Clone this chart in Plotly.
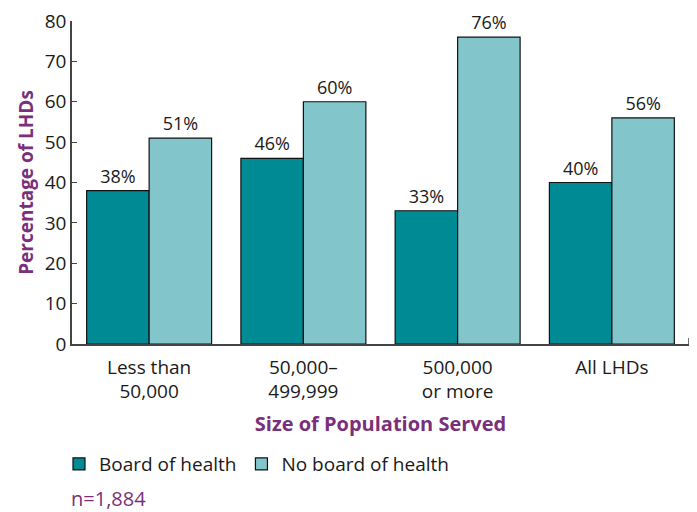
import plotly.graph_objects as go

categories = ["Less than<br>50,000", "50,000–<br>499,999", "500,000<br>or more", "All LHDs"]
board = [38, 46, 33, 40]
no_board = [51, 60, 76, 56]
series_names = ["Board of health", "No board of health"]
y_ticks = [0, 10, 20, 30, 40, 50, 60, 70, 80]

FONT = "Open Sans"
PURPLE = "#7a2f7c"
DARK = "#008a93"
LIGHT = "#82c6cc"

fig = go.Figure()
for name, vals, col in [(series_names[0], board, DARK), (series_names[1], no_board, LIGHT)]:
    fig.add_trace(go.Bar(
        x=categories, y=vals, name=name,
        marker=dict(color=col, line=dict(color="#111111", width=1.2)),
        text=[f"{v}%" for v in vals], textposition="outside",
        textfont=dict(size=18, color="#1a1a1a", family=FONT),
        cliponaxis=False,
    ))

# page body adds an 8px offset, so the figure is sized to the visible area
fig.update_layout(
    width=689, height=504,
    margin=dict(l=64, r=8, t=13, b=168, autoexpand=False),
    barmode="group", bargap=0.19, bargroupgap=0,
    plot_bgcolor="white", paper_bgcolor="white",
    font=dict(family=FONT, color="#1a1a1a"),
    showlegend=True,
    legend=dict(orientation="h", xref="container", yref="container",
                x=0.074, xanchor="left", y=0.0952, yanchor="middle",
                font=dict(size=19, family=FONT, color="#1a1a1a"),
                itemwidth=30, tracegroupgap=0, bgcolor="rgba(0,0,0,0)"),
)
fig.update_yaxes(
    range=[0, 80], tickvals=y_ticks, showgrid=False, zeroline=False, automargin=False,
    showline=True, linecolor="#444444", linewidth=1.5,
    ticks="inside", ticklen=5, tickcolor="#444444", ticklabeloverflow="allow",
    tickfont=dict(size=19, family=FONT, color="#1a1a1a"),
    title=dict(text="<b>Percentage of LHDs</b>", font=dict(size=19, color=PURPLE, family=FONT), standoff=6),
)
fig.update_xaxes(
    showgrid=False, zeroline=False, automargin=False,
    showline=True, linecolor="#444444", linewidth=1.5,
    ticks="", ticklabelstandoff=5, ticklabeloverflow="allow",
    tickfont=dict(size=19, family=FONT, color="#1a1a1a"),
    title=dict(text="<b>Size of Population Served</b>", font=dict(size=20, color=PURPLE, family=FONT), standoff=14),
)
fig.add_shape(type="line", xref="paper", yref="y", x0=1, x1=1, y0=0, y1=1.5,
              line=dict(color="#444444", width=1.5))
fig.add_annotation(text="n=1,884", xref="paper", yref="paper", x=-0.005, y=-0.477,
                   xanchor="left", yanchor="middle", showarrow=False,
                   font=dict(size=20, color=PURPLE, family=FONT))

fig.write_html("out.html")
